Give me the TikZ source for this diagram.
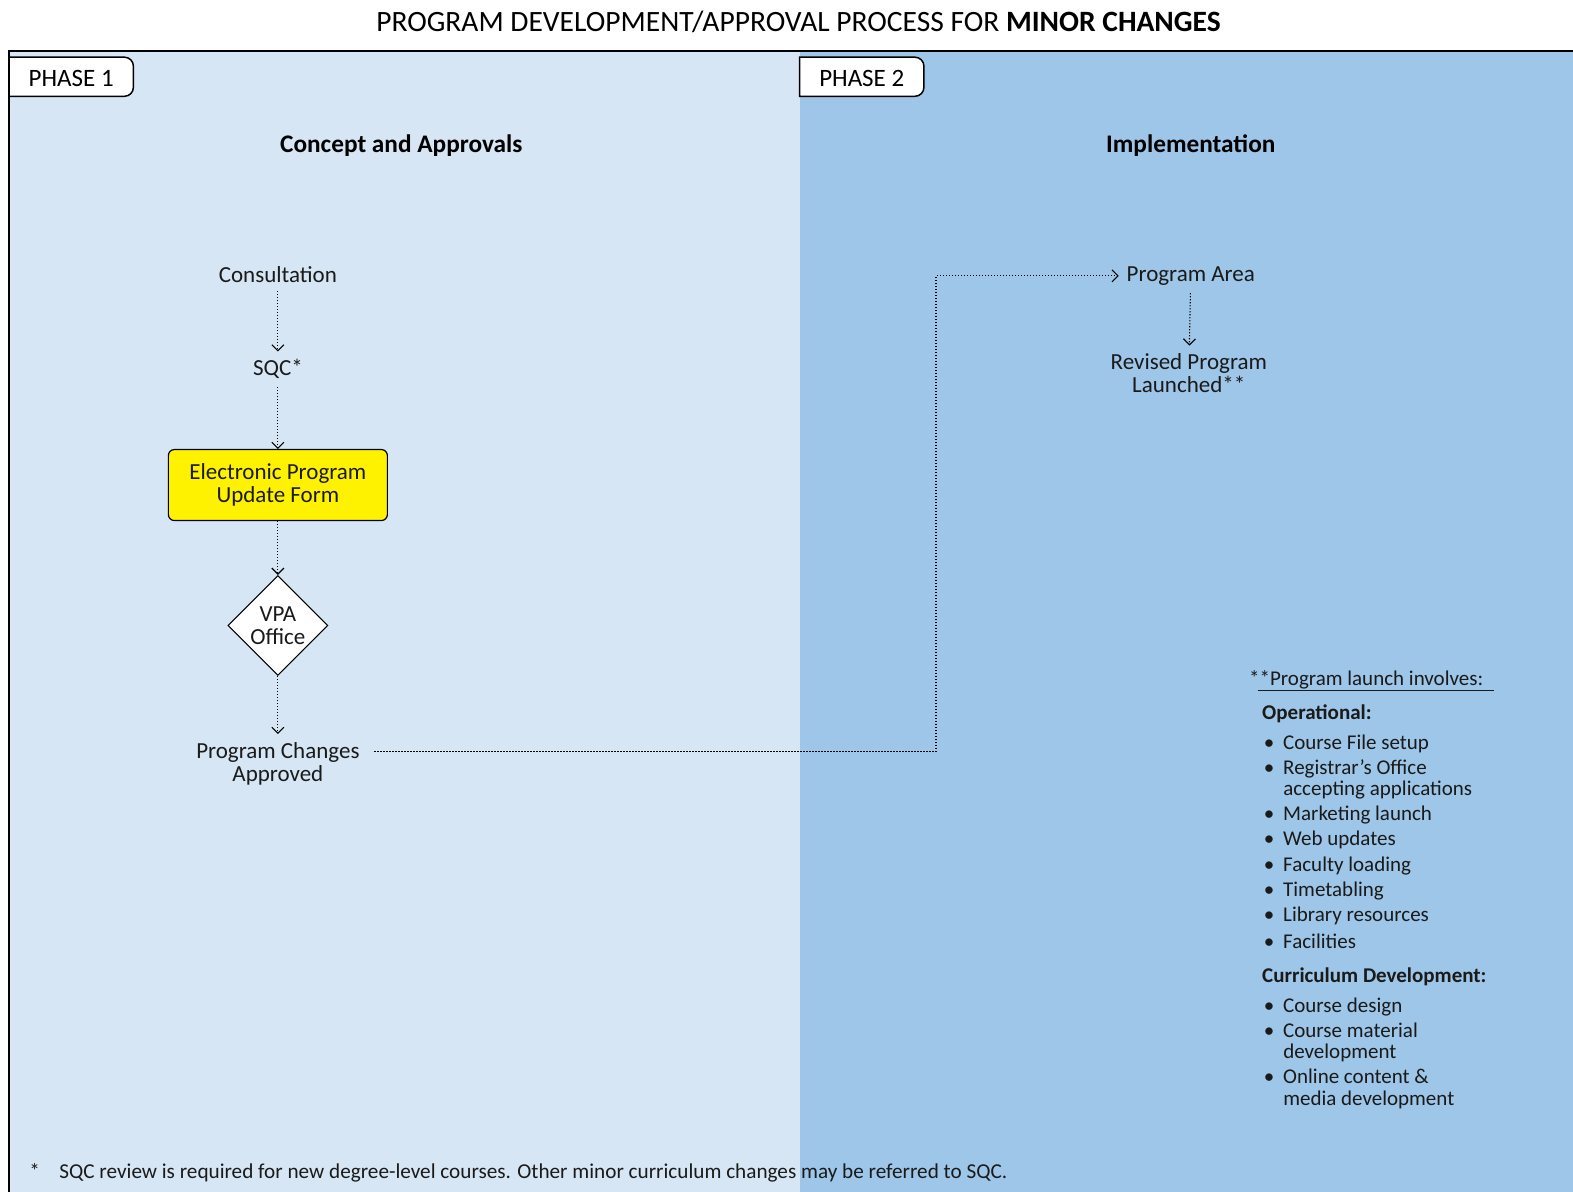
\documentclass[tikz,border=0pt]{standalone}
\usepackage{fontspec}
\setmainfont{Carlito}
\usetikzlibrary{arrows.meta,shapes.geometric}
\definecolor{paneA}{HTML}{D6E6F5}
\definecolor{paneB}{HTML}{9DC6E8}
\definecolor{formYellow}{HTML}{FFF200}
\definecolor{ink}{HTML}{1A1A1A}
\newcommand{\bitem}{\makebox[14pt][c]{\textbullet}\hspace{7pt}}
\begin{document}
\begin{tikzpicture}[x=1.0032pt,y=-1.0032pt,
  txt/.style={font=\fontsize{23}{23}\selectfont, text=ink, inner sep=0pt, outer sep=8pt, align=center},
  head/.style={font=\fontsize{25.3}{28}\selectfont\bfseries, inner sep=0pt},
  tabtxt/.style={font=\fontsize{25}{28}\selectfont, inner sep=0pt},
  form/.style={draw, line width=1.2pt, fill=formYellow, rounded corners=6pt,
    minimum width=219pt, minimum height=71pt, align=center,
    font=\fontsize{23}{23}\selectfont, text=ink, inner sep=0pt},
  vpabox/.style={diamond, draw, line width=1.2pt, fill=white, minimum width=100pt,
    minimum height=100pt, inner sep=0pt, align=center,
    font=\fontsize{23}{23}\selectfont, text=ink},
  flow/.style={line width=1.1pt, dash pattern=on 1.1pt off 1.9pt,
    -{Straight Barb[length=6pt,width=12pt,line width=1.1pt]}},
  noteline/.style={font=\fontsize{21}{22}\selectfont, text=ink, inner sep=0pt, anchor=base west},
  notehead/.style={noteline, font=\fontsize{21}{22}\selectfont\bfseries},
  bul/.style={noteline},
]
\useasboundingbox (0,0) rectangle (1568,1188);

% background panels and frame
\fill[paneA] (9,51) rectangle (797,1188);
\fill[paneB] (797,51) rectangle (1568,1188);
\draw[line width=2pt] (9,1188) -- (9,51) -- (1568,51);

% phase tabs
\draw[line width=1.5pt, fill=white] (9,57) -- (124,57) arc(-90:0:9) -- (133,87) arc(0:90:9) -- (9,96) -- cycle;
\draw[line width=1.5pt, fill=white] (797,57) -- (912,57) arc(-90:0:9) -- (921,87) arc(0:90:9) -- (797,96) -- cycle;
\node[tabtxt] (p1) at (71,78) {PHASE 1};
\node[tabtxt] (p2) at (859,78) {PHASE 2};

% title
\node[font=\fontsize{29.5}{32}\selectfont, inner sep=0pt] (title) at (796,22)
  {PROGRAM DEVELOPMENT/APPROVAL PROCESS FOR \textbf{MINOR CHANGES}};

% phase headings
\node[head] (h1) at (400,145) {Concept and Approvals};
\node[head] (h2) at (1187,145) {Implementation};

% phase 1 flow
\node[txt] (cons) at (277,274) {Consultation};
\node[txt] (sqc) at (277,368) {SQC*};
\node[form] (epuf) at (277,483.5) {Electronic Program\\Update Form};
\node[vpabox] (vpa) at (277,623.5) {VPA\\Office};
\node[txt] (pca) at (277,761) {Program Changes\\Approved};

\draw[flow] (cons) -- (sqc);
\draw[flow] (sqc) -- (epuf);
\draw[flow] (epuf) -- (vpa);
\draw[flow] (vpa) -- (pca);

% phase 2 flow
\node[txt] (parea) at (1187,275) {Program Area};
\node[txt] (rpl) at (1185,372) {Revised Program\\Launched**};
\draw[flow] (parea) -- (rpl);

% hand-over between phases
\coordinate (pcaout) at ([xshift=7pt,yshift=12pt]pca.east);
\coordinate (riser) at (933,0);
\draw[flow] (pcaout) -| (riser |- parea.west) -- (parea.west);

% launch notes
\node[noteline] (nh) at (1245,683) {**Program launch involves:};
\draw[line width=1pt, ink] ([xshift=9pt,yshift=-5pt]nh.base west) -- ([xshift=11pt,yshift=-5pt]nh.base east);
\node[notehead] (op) at (1258,717) {Operational:};
\node[bul] (o1) at (1258,747) {\bitem Course File setup};
\node[bul] (o2) at (1258,772) {\bitem Registrar’s Office};
\node[bul] (o2b) at (1279,793) {accepting applications};
\node[bul] (o3) at (1258,818) {\bitem Marketing launch};
\node[bul] (o4) at (1258,843) {\bitem Web updates};
\node[bul] (o5) at (1258,869) {\bitem Faculty loading};
\node[bul] (o6) at (1258,894) {\bitem Timetabling};
\node[bul] (o7) at (1258,919) {\bitem Library resources};
\node[bul] (o8) at (1258,945) {\bitem Facilities};
\node[notehead] (cd) at (1258,979) {Curriculum Development:};
\node[bul] (c1) at (1258,1009) {\bitem Course design};
\node[bul] (c2) at (1258,1034) {\bitem Course material};
\node[bul] (c2b) at (1279,1055) {development};
\node[bul] (c3) at (1258,1080) {\bitem Online content \&};
\node[bul] (c3b) at (1279,1102) {media development};

% footnote
\node[noteline, font=\fontsize{21.2}{22}\selectfont] (fstar) at (29,1175) {*};
\node[noteline, font=\fontsize{21.2}{22}\selectfont] (fn) at (59,1175)
  {SQC review is required for new degree-level courses. Other minor curriculum changes may be referred to SQC.};
\end{tikzpicture}
\end{document}
